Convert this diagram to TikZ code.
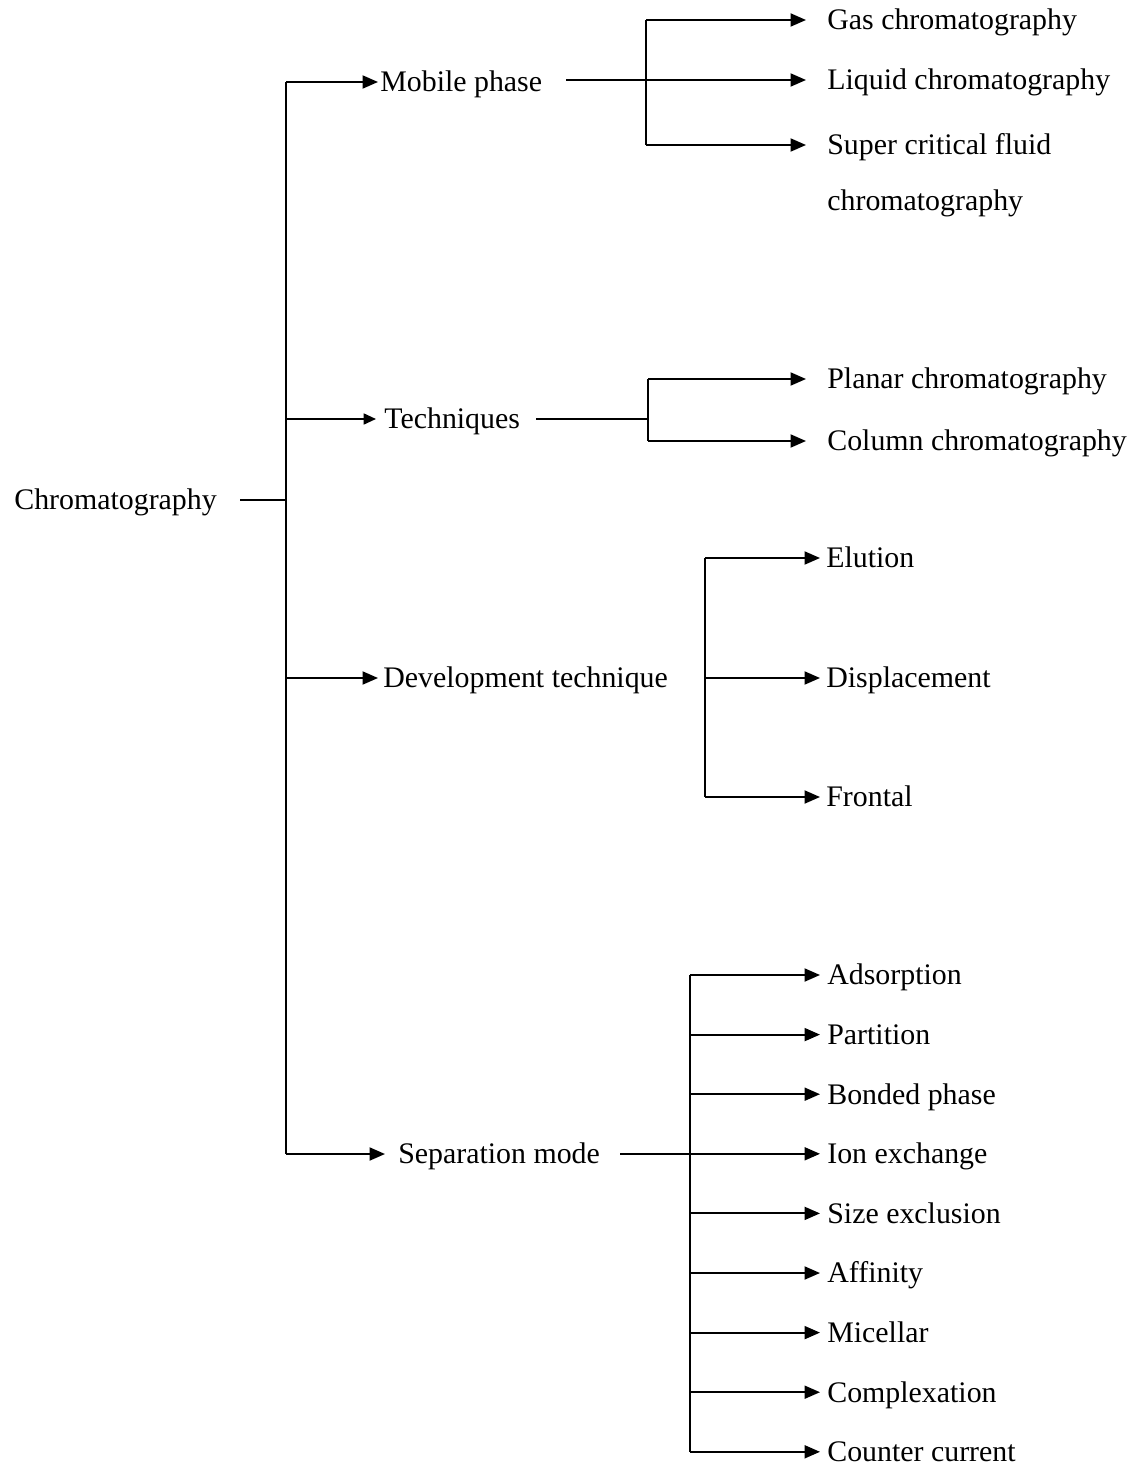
\documentclass[tikz,border=0pt]{standalone}
\usepackage{fontspec}
\setmainfont{Liberation Serif}
\usetikzlibrary{arrows.meta,calc}

\tikzset{
  leaf/.style={anchor=west, inner sep=0pt, text height=11.3pt, text depth=0pt,
    font=\fontsize{17}{20}\selectfont},
  link/.style={line width=1.1pt},
  arr/.style={link, -{Triangle[length=8.8pt, width=7.4pt]}},
  smallarr/.style={link, -{Triangle[length=7pt, width=6.2pt]}},
}

\begin{document}
\begin{tikzpicture}[x=0.02cm, y=-0.02cm]
\useasboundingbox (0,0) rectangle (1135,1466);

% Label root and first level nodes
\node[leaf] (chrom) at (14,500) {Chromatography};
\node[leaf] (mob) at (380,82) {Mobile phase};
\node[leaf] (tech) at (384,419) {Techniques};
\node[leaf] (dev) at (383,678) {Development technique};
\node[leaf] (sep) at (398,1154) {Separation mode};

% Draw main trunk
\coordinate (trunkT) at (286,82);
\coordinate (trunkB) at (286,1154);
\draw[link] (trunkT) -- (trunkB);
\draw[link] ($(chrom.east)+(23,0)$) -- (chrom.east -| trunkT);

% Draw first level arrows
\draw[arr, shorten >=0.04cm] (trunkT) -- (mob.west);
\draw[smallarr, shorten >=0.16cm] (tech.west -| trunkT) -- (tech.west);
\draw[arr, shorten >=0.1cm] (dev.west -| trunkT) -- (dev.west);
\draw[arr, shorten >=0.26cm] (trunkB) -- (sep.west);

% Mobile phase
\node[leaf] (gas) at (827,20) {Gas chromatography};
\node[leaf] (liq) at (827,80) {Liquid chromatography};
\node[leaf] (scf) at (827,145) {Super critical fluid};
\node[leaf] (scf2) at (827,201) {chromatography};
\coordinate (mobT) at (646,20);
\coordinate (mobB) at (646,145);
\draw[link] (mobT) -- (mobB);
\draw[arr, shorten >=0.42cm] ($(mob.east)+(24,-2)$) -- (liq.west);
\draw[arr, shorten >=0.42cm] (mobT) -- (gas.west);
\draw[arr, shorten >=0.42cm] (mobB) -- (scf.west);

% Techniques
\node[leaf] (plan) at (827,379) {Planar chromatography};
\node[leaf] (col) at (827,441) {Column chromatography};
\coordinate (techT) at (648,379);
\coordinate (techB) at (648,441);
\draw[link] (techT) -- (techB);
\draw[link] ($(tech.east)+(16,0)$) -- (tech.east -| techT);
\draw[arr, shorten >=0.42cm] (techT) -- (plan.west);
\draw[arr, shorten >=0.42cm] (techB) -- (col.west);

% Development technique
\node[leaf] (elu) at (826,558) {Elution};
\node[leaf] (disp) at (826,678) {Displacement};
\node[leaf] (front) at (826,797) {Frontal};
\coordinate (devT) at (705,558);
\coordinate (devB) at (705,797);
\draw[link] (devT) -- (devB);
\draw[arr, shorten >=0.12cm] (devT) -- (elu.west);
\draw[arr, shorten >=0.12cm] (disp.west -| devT) -- (disp.west);
\draw[arr, shorten >=0.12cm] (devB) -- (front.west);

% Separation mode
\foreach \name [count=\i from 0] in {Adsorption, Partition, Bonded phase, Ion exchange,
    Size exclusion, Affinity, Micellar, Complexation, Counter current} {
  \coordinate (b\i) at (690,{975+59.6*\i});
  \node[leaf] (s\i) at (827,{975+59.6*\i}) {\name};
  \draw[arr, shorten >=0.14cm] (b\i) -- (s\i.west);
}
\draw[link] (b0) -- (b8);
\draw[link] ($(sep.east)+(20,0)$) -- (sep.east -| b0);
\end{tikzpicture}
\end{document}
